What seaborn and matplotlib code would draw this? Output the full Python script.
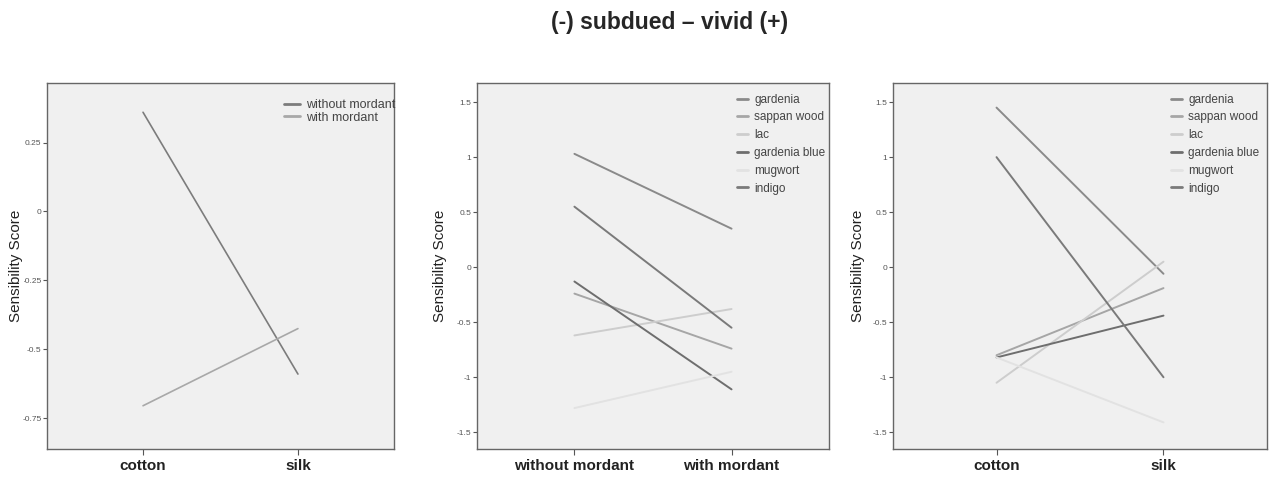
import matplotlib
matplotlib.use("Agg")
import matplotlib.pyplot as plt
import pandas as pd
import seaborn as sns

# data
fabrics = ['cotton', 'silk']
mordants = ['without mordant', 'with mordant']
dyes = ['gardenia', 'sappan wood', 'lac', 'gardenia blue', 'mugwort', 'indigo']

# panel 1: mordant x fabric
p1_without = [0.36, -0.59]
p1_with = [-0.705, -0.425]

# panel 2: dye x mordant (without, with)
p2_gardenia = [1.03, 0.35]
p2_sappan = [-0.24, -0.74]
p2_lac = [-0.62, -0.38]
p2_gardenia_blue = [-0.13, -1.11]
p2_mugwort = [-1.28, -0.95]
p2_indigo = [0.55, -0.55]

# panel 3: dye x fabric (cotton, silk)
p3_gardenia = [1.45, -0.06]
p3_sappan = [-0.80, -0.19]
p3_lac = [-1.05, 0.05]
p3_gardenia_blue = [-0.82, -0.44]
p3_mugwort = [-0.82, -1.41]
p3_indigo = [1.00, -1.00]

dye_colors = {'gardenia': '#8a8a8a', 'sappan wood': '#a6a6a6', 'lac': '#cdcdcd',
              'gardenia blue': '#6e6e6e', 'mugwort': '#e2e2e2', 'indigo': '#7a7a7a'}
mord_colors = {'without mordant': '#7c7c7c', 'with mordant': '#a8a8a8'}

sns.set_style("white")
plt.rcParams['font.family'] = ['Liberation Sans', 'DejaVu Sans']


def long_df(xcats, series, names, hue_name):
    rows = []
    for name, vals in zip(names, series):
        for xc, v in zip(xcats, vals):
            rows.append({'x': xc, 'score': v, hue_name: name})
    return pd.DataFrame(rows)


def style_ax(ax, xcats, yticks, ylabels, ylim, label_x):
    ax.set_facecolor('#f0f0f0')
    ax.set_xlim(-0.62, 1.62)
    ax.set_ylim(*ylim)
    ax.set_xticks(range(len(xcats)))
    ax.set_xticklabels(xcats, fontsize=11, fontweight='bold', color='#222222')
    ax.set_yticks(yticks)
    ax.set_yticklabels(ylabels, fontsize=6, color='#555555')
    ax.tick_params(axis='y', length=3, width=0.8, color='#555555', pad=1, left=True)
    ax.tick_params(axis='x', length=4, width=0.8, color='#555555', pad=3, bottom=True)
    for sp in ax.spines.values():
        sp.set_color('#666666')
        sp.set_linewidth(1.0)
    ax.set_xlabel('')
    ax.set_ylabel('Sensibility Score', fontsize=11, color='#222222')
    ax.yaxis.set_label_coords(label_x, 0.5)


fig = plt.figure(figsize=(12.73, 4.79), dpi=100)
ax1 = fig.add_axes([0.0369, 0.0626, 0.2726, 0.764])
ax2 = fig.add_axes([0.3747, 0.0626, 0.2765, 0.764])
ax3 = fig.add_axes([0.7015, 0.0626, 0.2938, 0.764])

df1 = long_df([0, 1], [p1_without, p1_with], mordants, 'mordant')
sns.lineplot(data=df1, x='x', y='score', hue='mordant', palette=mord_colors,
             hue_order=mordants, ax=ax1, linewidth=1.2)

df2 = long_df([0, 1], [p2_gardenia, p2_sappan, p2_lac, p2_gardenia_blue, p2_mugwort, p2_indigo],
              dyes, 'dye')
sns.lineplot(data=df2, x='x', y='score', hue='dye', palette=dye_colors,
             hue_order=dyes, ax=ax2, linewidth=1.4)

df3 = long_df([0, 1], [p3_gardenia, p3_sappan, p3_lac, p3_gardenia_blue, p3_mugwort, p3_indigo],
              dyes, 'dye')
sns.lineplot(data=df3, x='x', y='score', hue='dye', palette=dye_colors,
             hue_order=dyes, ax=ax3, linewidth=1.4)

style_ax(ax1, fabrics, [0.25, 0, -0.25, -0.5, -0.75],
         ['0.25', '0', '-0.25', '-0.5', '-0.75'], (-0.862, 0.466), -0.069)
style_ax(ax2, mordants, [1.5, 1, 0.5, 0, -0.5, -1, -1.5],
         ['1.5', '1', '0.5', '0', '-0.5', '-1', '-1.5'], (-1.652, 1.673), -0.085)
style_ax(ax3, fabrics, [1.5, 1, 0.5, 0, -0.5, -1, -1.5],
         ['1.5', '1', '0.5', '0', '-0.5', '-1', '-1.5'], (-1.652, 1.673), -0.075)
# the y label sits on top of the "-0.25" tick label as in the reference
ax1.yaxis.label.set_bbox(dict(facecolor='white', edgecolor='none', pad=0.5))
ax1.yaxis.label.set_zorder(5)

legend_setup = [(ax1, (0.683, 0.956), 9, 0.05, 1.3),
                (ax2, (0.739, 0.971), 8.5, 0.49, 0.95),
                (ax3, (0.744, 0.971), 8.5, 0.49, 0.95)]
for ax, anchor, fs, sp, hl in legend_setup:
    leg = ax.legend(loc='upper left', bbox_to_anchor=anchor, frameon=False, fontsize=fs,
                    handlelength=hl, handletextpad=0.5, labelspacing=sp,
                    borderaxespad=0, borderpad=0)
    for h in leg.get_lines():
        h.set_linewidth(2.0)
    for t in leg.get_texts():
        t.set_color('#444444')

fig.suptitle('(-) subdued \u2013 vivid (+)', x=0.526, y=0.978, fontsize=16.5, fontweight='bold')

fig.savefig('out.png', dpi=100, facecolor='white')
